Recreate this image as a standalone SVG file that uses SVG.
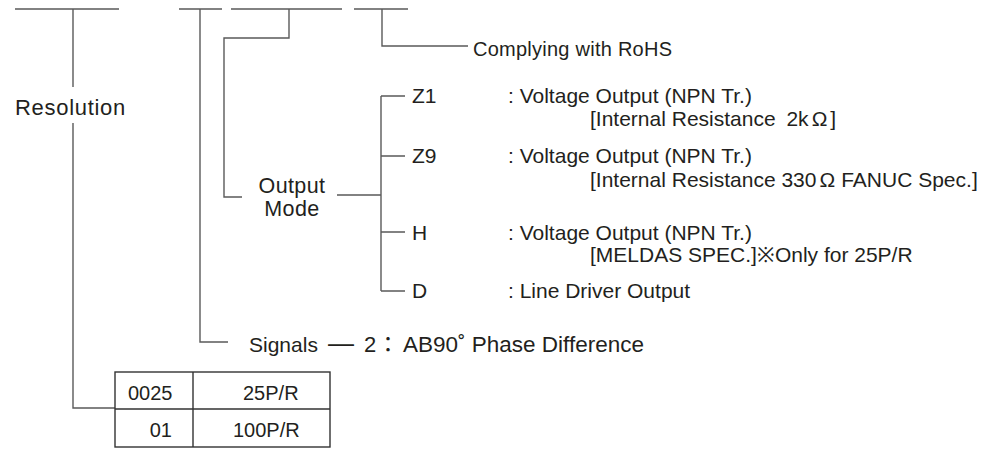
<svg xmlns="http://www.w3.org/2000/svg" width="992" height="450" viewBox="0 0 992 450">
<style>
.ln{stroke:#5a5a5a;stroke-width:1.4;fill:none}
.t{font-family:"Liberation Sans",Arial,sans-serif;fill:#231f20;font-size:21px}
.tb{font-family:"Liberation Sans",Arial,sans-serif;fill:#231f20;font-size:20px}
</style>
<rect width="992" height="450" fill="#fff"/>
<g id="connectors">
<path class="ln" d="M15 9H119M179 9H222M231 9H342M354 9H408"/>
<path class="ln" d="M73 9V87M73 123V408H115"/>
<path class="ln" d="M200 9V342H228"/>
<path class="ln" d="M289 9V38H224V197H242"/>
<path class="ln" d="M382 9V46H468"/>
<path class="ln" d="M337 195H381M381 96V291M381 96H405M381 156H405M381 232H405M381 291H405"/>
</g>
<g id="resolution"><text class="t" x="15" y="115" style="font-size:22px;letter-spacing:0.7px">Resolution</text></g>
<g id="rohs"><text class="t" x="473" y="56" style="font-size:20px;letter-spacing:0.25px">Complying with RoHS</text></g>
<g id="output-mode"><text class="t" x="292" y="193" text-anchor="middle" style="font-size:21.5px;letter-spacing:0.4px">Output</text><text class="t" x="292" y="216" text-anchor="middle" style="font-size:21.5px;letter-spacing:0.4px">Mode</text></g>
<g id="z1"><text class="t" x="412" y="103">Z1</text><text class="t" x="508" y="103">: Voltage Output (NPN Tr.)</text><text class="t" x="590" y="126">[Internal Resistance <tspan dx="5">2k</tspan><tspan dx="3">Ω</tspan><tspan dx="3">]</tspan></text></g>
<g id="z9"><text class="t" x="412" y="163">Z9</text><text class="t" x="508" y="163">: Voltage Output (NPN Tr.)</text><text class="t" x="590" y="187">[Internal Resistance 330<tspan dx="3">Ω</tspan><tspan dx="6">FANUC Spec.]</tspan></text></g>
<g id="h"><text class="t" x="412" y="240">H</text><text class="t" x="508" y="240">: Voltage Output (NPN Tr.)</text><text class="t" x="590" y="262">[MELDAS SPEC.]※Only for 25P/R</text></g>
<g id="d"><text class="t" x="412" y="298">D</text><text class="t" x="508" y="298">: Line Driver Output</text></g>
<g id="signals"><text class="t" x="249" y="352" style="font-size:21px">Signals</text><text class="t" x="328" y="352" style="font-size:26px">—</text><text class="t" x="364" y="352" style="font-size:22px">2</text><text class="t" x="377" y="352" style="font-family:'Noto Sans CJK JP',sans-serif;font-size:22px">：</text><text class="t" x="403" y="352" style="font-size:22.5px">AB90˚ Phase Difference</text></g>
<g id="resolution-table">
<rect class="ln" x="115" y="372" width="215" height="75" style="stroke:#333"/>
<path class="ln" d="M115 409H330M193 372V447" style="stroke:#333"/>
<text class="tb" x="128" y="400">0025</text><text class="tb" x="243" y="400">25P/R</text>
<text class="tb" x="172" y="437" text-anchor="end">01</text><text class="tb" x="233" y="437">100P/R</text>
</g>
</svg>
